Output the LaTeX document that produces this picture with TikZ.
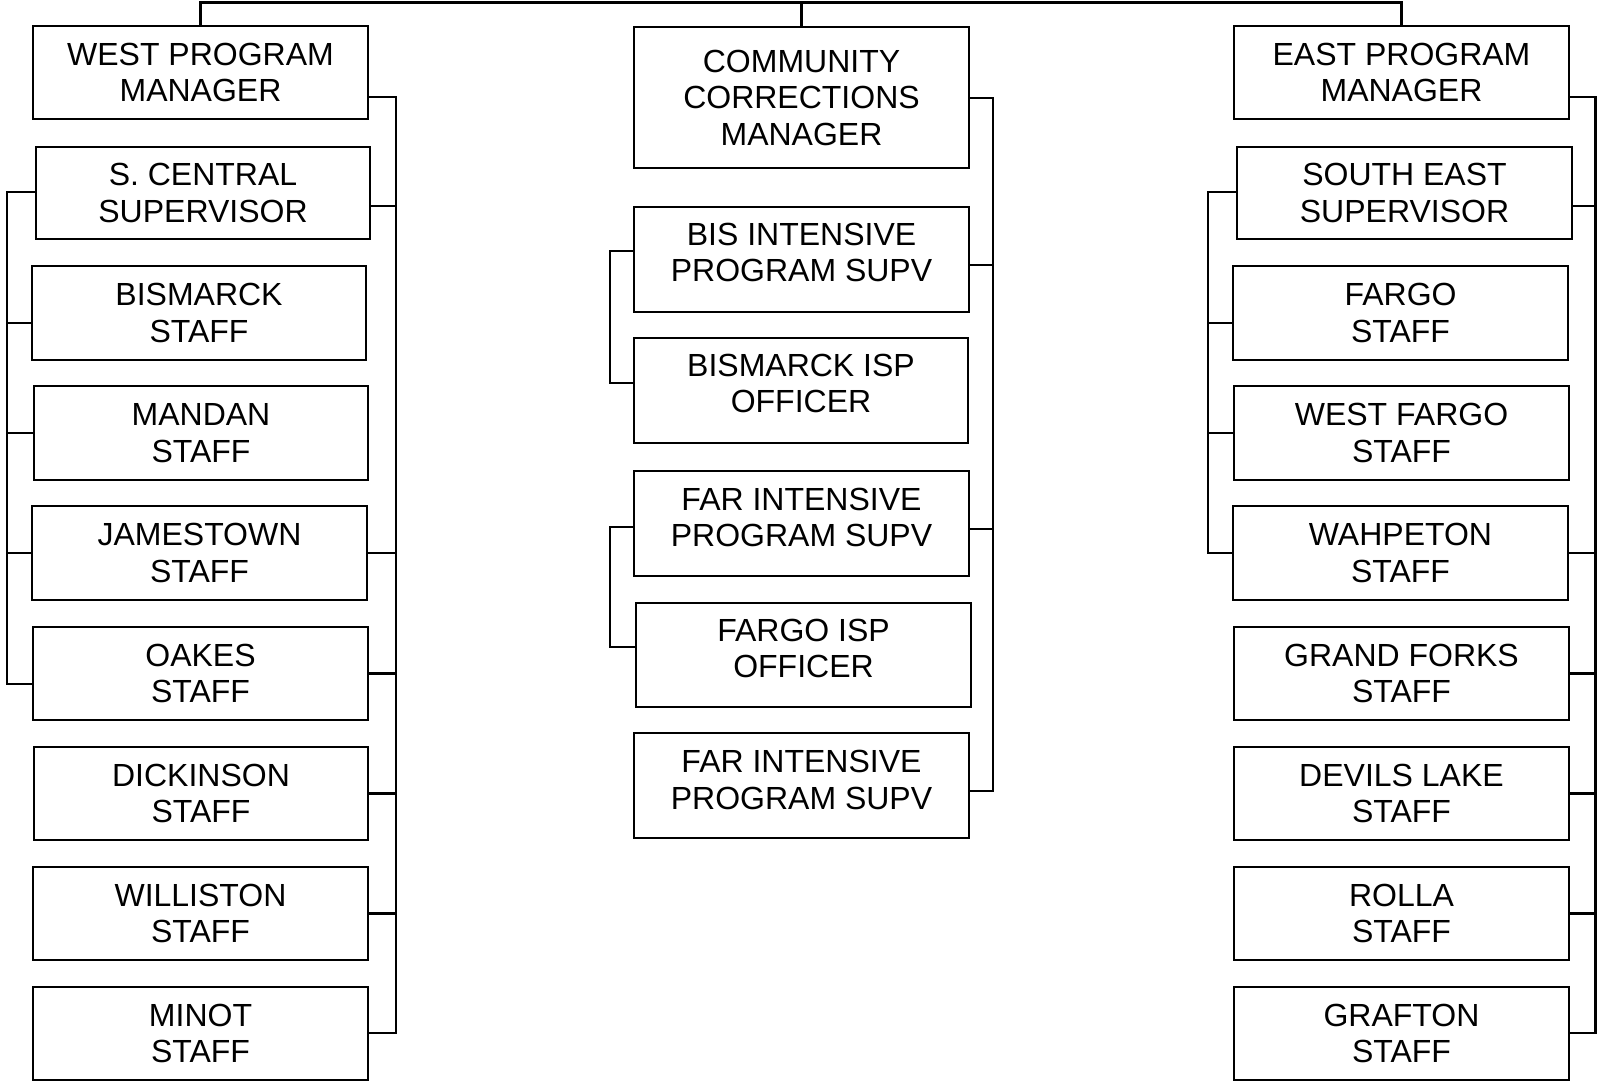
\documentclass[tikz,border=0pt]{standalone}
\usepackage{fontspec}
\setmainfont{Liberation Sans}

% Org chart boxes: #1 name, #2..#5 corners (x1,y1,x2,y2), #6 text lift, #7 label
\newcommand\orgunit[7]{%
  \node[unitbox, minimum width={#4-#2}, minimum height={#5-#3}]
    (#1) at ({(#2+#4)/2},{(#3+#5)/2}) {};
  \node[unittext] (#1-t) at ([yshift=#6]#1.center) {#7};
}

\begin{document}
\begin{tikzpicture}[x=1pt, y=-1pt,
  unitbox/.style={draw, line width=2.9pt, rectangle, inner sep=0pt, fill=white},
  unittext/.style={align=center, inner sep=0pt,
    font=\fontsize{32}{36.5}\selectfont},
  link/.style={draw, line width=2.9pt, line cap=rect}]

\useasboundingbox (0,0) rectangle (1597,1082);

% ---- west column
\orgunit{wpm}{33}{26}{368}{119}{0pt}{WEST PROGRAM\\MANAGER}
\orgunit{scs}{36}{147}{370}{239}{0pt}{S. CENTRAL\\SUPERVISOR}
\orgunit{bis}{32}{266}{366}{360}{0pt}{BISMARCK\\STAFF}
\orgunit{man}{34}{386}{368}{480}{0pt}{MANDAN\\STAFF}
\orgunit{jam}{32}{506}{367}{600}{0pt}{JAMESTOWN\\STAFF}
\orgunit{oak}{33}{627}{368}{720}{0pt}{OAKES\\STAFF}
\orgunit{dic}{34}{747}{368}{840}{0pt}{DICKINSON\\STAFF}
\orgunit{wil}{33}{867}{368}{960}{0pt}{WILLISTON\\STAFF}
\orgunit{min}{33}{987}{368}{1080}{0pt}{MINOT\\STAFF}

% ---- middle column
\orgunit{ccm}{634}{27}{969}{168}{0pt}{COMMUNITY\\CORRECTIONS\\MANAGER}
\orgunit{bip}{634}{207}{969}{312}{7pt}{BIS INTENSIVE\\PROGRAM SUPV}
\orgunit{bio}{634}{338}{968}{443}{7pt}{BISMARCK ISP\\OFFICER}
\orgunit{fip}{634}{471}{969}{576}{6pt}{FAR INTENSIVE\\PROGRAM SUPV}
\orgunit{fio}{636}{603}{971}{707}{6.5pt}{FARGO ISP\\OFFICER}
\orgunit{fiq}{634}{733}{969}{838}{5.5pt}{FAR INTENSIVE\\PROGRAM SUPV}

% ---- east column
\orgunit{epm}{1234}{26}{1569}{119}{0pt}{EAST PROGRAM\\MANAGER}
\orgunit{ses}{1237}{147}{1572}{239}{0pt}{SOUTH EAST\\SUPERVISOR}
\orgunit{far}{1233}{266}{1568}{360}{0pt}{FARGO\\STAFF}
\orgunit{wfa}{1234}{386}{1569}{480}{0pt}{WEST FARGO\\STAFF}
\orgunit{wah}{1233}{506}{1568}{600}{0pt}{WAHPETON\\STAFF}
\orgunit{gfk}{1234}{627}{1569}{720}{0pt}{GRAND FORKS\\STAFF}
\orgunit{dvl}{1234}{747}{1569}{840}{0pt}{DEVILS LAKE\\STAFF}
\orgunit{rol}{1234}{867}{1569}{960}{0pt}{ROLLA\\STAFF}
\orgunit{gra}{1234}{987}{1569}{1080}{0pt}{GRAFTON\\STAFF}

% ---- top line joining the three managers
\coordinate (topW) at (wpm.north |- 0,2.7);
\coordinate (topE) at (epm.north |- 0,2.7);
\draw[link] (wpm.north) -- (topW) -- (topE) -- (epm.north);
\draw[link] (ccm.north) -- (ccm.north |- topW);

% ---- west: right-hand bus
\coordinate (wR) at (396,97);
\coordinate (wRb) at (396,1033);
\draw[link] (wpm.east |- wR) -- (wR) -- (wRb) -- (min.east |- wRb);
\draw[link] (scs.east |- 0,206) -- (wR |- 0,206);
\foreach \n in {jam,oak,dic,wil}
  \draw[link] (\n.east) -- (\n.east -| wR);

% ---- west: left-hand bus (S. Central group)
\coordinate (wL) at (7,192);
\coordinate (wLb) at (7,684);
\draw[link] (scs.west |- wL) -- (wL) -- (wLb) -- (oak.west |- wLb);
\draw[link] (bis.west |- 0,323) -- (wL |- 0,323);
\foreach \n in {man,jam}
  \draw[link] (\n.west) -- (\n.west -| wL);

% ---- middle: right-hand bus
\coordinate (mR) at (993,98);
\coordinate (mRb) at (993,791);
\draw[link] (ccm.east |- mR) -- (mR) -- (mRb) -- (fiq.east |- mRb);
\draw[link] (bip.east |- 0,265) -- (mR |- 0,265);
\draw[link] (fip.east |- 0,529) -- (mR |- 0,529);

% ---- middle: left brackets
\coordinate (mL1) at (610,251);
\coordinate (mL1b) at (610,383);
\draw[link] (bip.west |- mL1) -- (mL1) -- (mL1b) -- (bio.west |- mL1b);
\coordinate (mL2) at (610,527);
\coordinate (mL2b) at (610,647);
\draw[link] (fip.west |- mL2) -- (mL2) -- (mL2b) -- (fio.west |- mL2b);

% ---- east: right-hand bus
\coordinate (eR) at (1595.6,97);
\coordinate (eRb) at (1595.6,1033);
\draw[link] (epm.east |- eR) -- (eR) -- (eRb) -- (gra.east |- eRb);
\draw[link] (ses.east |- 0,206) -- (eR |- 0,206);
\foreach \n in {wah,gfk,dvl,rol}
  \draw[link] (\n.east) -- (\n.east -| eR);

% ---- east: left-hand bus (South East group)
\coordinate (eL) at (1208,192);
\coordinate (eLb) at (1208,553);
\draw[link] (ses.west |- eL) -- (eL) -- (eLb) -- (wah.west |- eLb);
\draw[link] (far.west |- 0,323) -- (eL |- 0,323);
\draw[link] (wfa.west) -- (wfa.west -| eL);

\end{tikzpicture}
\end{document}
